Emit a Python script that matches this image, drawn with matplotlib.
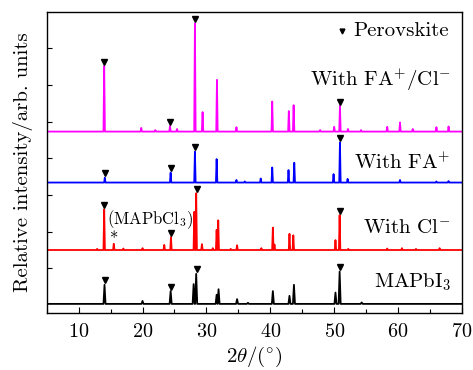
import matplotlib
matplotlib.use('Agg')
from matplotlib import pyplot as plt
from matplotlib import rcParams

rcParams['font.family'] = 'serif'
rcParams['font.serif'] = ['cmr10']
rcParams['mathtext.fontset'] = 'cm'
rcParams['axes.unicode_minus'] = False
rcParams['axes.formatter.use_mathtext'] = True
rcParams['xtick.direction'] = 'in'
rcParams['ytick.direction'] = 'in'

# ---- data: peak positions (2theta, deg) and heights above each baseline ----
x_start, x_end = 5.0, 70.0

mapi_pos = [14.05, 20.0, 24.4, 28.0, 28.4, 31.6, 31.9, 34.8, 36.5, 40.4, 43.0, 43.7, 50.2, 50.85, 54.3]
mapi_int = [0.52, 0.08, 0.35, 0.54, 0.82, 0.25, 0.40, 0.13, 0.03, 0.35, 0.22, 0.52, 0.31, 0.88, 0.04]

cl_pos = [12.9, 14.0, 15.5, 17.0, 20.0, 23.4, 24.45, 28.1, 28.4, 29.3, 31.0, 31.6, 31.85, 33.8,
          34.8, 38.6, 40.4, 40.65, 43.0, 43.6, 50.2, 50.85, 52.2, 58.3, 60.6, 62.8, 66.5]
cl_int = [0.03, 1.11, 0.17, 0.04, 0.05, 0.14, 0.35, 1.04, 1.55, 0.16, 0.05, 0.55, 0.81, 0.03,
          0.13, 0.05, 0.61, 0.15, 0.44, 0.40, 0.27, 0.95, 0.03, 0.04, 0.05, 0.03, 0.05]

fa_pos = [14.1, 24.4, 28.2, 31.6, 34.7, 36.0, 38.5, 40.3, 42.85, 43.75, 49.9, 50.9, 52.1, 60.3, 66.0, 67.9]
fa_int = [0.13, 0.27, 0.84, 0.64, 0.07, 0.03, 0.11, 0.41, 0.34, 0.54, 0.23, 1.09, 0.10, 0.07, 0.03, 0.04]

facl_pos = [14.0, 19.8, 22.0, 24.3, 25.4, 28.2, 29.4, 31.65, 34.7, 40.3, 42.9, 43.65, 47.8, 50.0,
            50.9, 52.15, 54.2, 58.3, 60.3, 62.3, 66.0, 67.9]
facl_int = [1.79, 0.10, 0.04, 0.15, 0.07, 2.95, 0.53, 1.41, 0.12, 0.82, 0.56, 0.72, 0.04, 0.13,
            0.70, 0.07, 0.04, 0.13, 0.25, 0.07, 0.12, 0.14]

# perovskite markers (2theta) for each pattern
mapi_mark = [14.1, 24.4, 28.6, 50.9]
cl_mark = [14.0, 24.4, 28.5, 50.9]
fa_mark = [14.1, 24.4, 28.2, 50.9]
facl_mark = [14.0, 24.3, 28.2, 50.9]

# (baseline, colour, peaks, heights, markers)
series = [
    (0.03, 'k', mapi_pos, mapi_int, mapi_mark),
    (1.50, '#FF0000', cl_pos, cl_int, cl_mark),
    (3.34, '#0000FF', fa_pos, fa_int, fa_mark),
    (4.73, '#FF00FF', facl_pos, facl_int, facl_mark),
]


def trace(pos, inten, base, hw):
    xs, ys = [x_start], [base]
    for p, h in sorted(zip(pos, inten)):
        xs += [p - hw, p, p + hw]
        ys += [base, base + h, base]
    xs.append(x_end)
    ys.append(base)
    return xs, ys


#%%
fig = plt.figure(figsize=(4.73, 3.70), dpi=100)
ax = fig.add_axes([0.0987, 0.1532, 0.878, 0.8152])

for i, (base, c, pos, inten, marks) in enumerate(series):
    hw = 0.16 if i == 0 else 0.11
    xs, ys = trace(pos, inten, base, hw)
    ax.plot(xs, ys, color=c, lw=1.3)
    # marker sits just above the tallest peak near its position
    my = [base + max([h for p, h in zip(pos, inten) if abs(p - m) < 0.5]) + 0.12 for m in marks]
    ax.plot(marks, my, 'v', color='k', ms=4, ls='none')

ax.set_xlim(x_start, x_end)
ax.set_ylim(-0.227, 8.0)
ax.set_xticks(range(10, 71, 10))
ax.set_xticks(range(5, 71, 5), minor=True)
ax.set_yticks(range(1, 8))
ax.tick_params(axis='y', labelleft=False, length=3.5, width=0.8)
ax.tick_params(axis='x', which='major', length=4.5, width=0.8, labelsize=14.5, pad=7)
ax.tick_params(axis='x', which='minor', length=3, width=0.8)
ax.spines[:].set_linewidth(1.0)

ax.set_xlabel(r'$2\theta/(^{\circ})$', fontsize=15, labelpad=3)
ax.set_ylabel('Relative intensity/arb. units', fontsize=15, labelpad=10)

fs = 15
ax.plot([51.2], [7.47], 'v', color='k', ms=3.5)
ax.text(53.0, 7.47, 'Perovskite', fontsize=fs, va='center', ha='left')
ax.text(68.2, 6.14, r'With FA$^{+}$/Cl$^{-}$', fontsize=fs, va='center', ha='right')
ax.text(68.2, 3.88, r'With FA$^{+}$', fontsize=fs, va='center', ha='right')
ax.text(68.2, 2.11, r'With Cl$^{-}$', fontsize=fs, va='center', ha='right')
ax.text(68.3, 0.61, r'MAPbI$_3$', fontsize=fs, va='center', ha='right')
ax.text(14.5, 2.32, r'(MAPbCl$_3$)', fontsize=12, va='center', ha='left')
ax.text(15.5, 1.78, '*', fontsize=12, va='center', ha='center')

#%%
fig.savefig('out.png', dpi=100)
